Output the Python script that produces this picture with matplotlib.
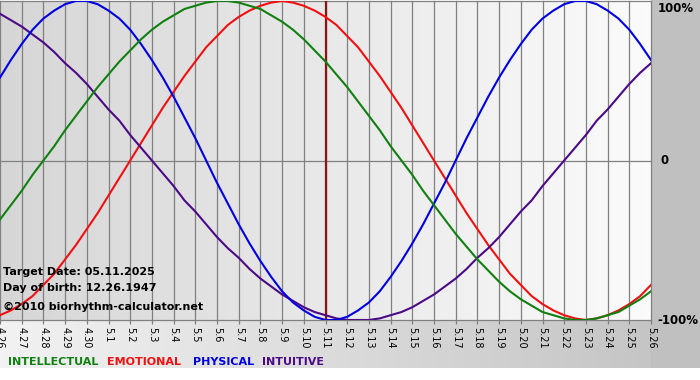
import numpy as np
import matplotlib
matplotlib.use("Agg")
import matplotlib.pyplot as plt

# tick labels, one per day (4.26 .. 5.26)
day_labels = ["4.26", "4.27", "4.28", "4.29", "4.30", "5.1", "5.2", "5.3", "5.4", "5.5",
              "5.6", "5.7", "5.8", "5.9", "5.10", "5.11", "5.12", "5.13", "5.14", "5.15",
              "5.16", "5.17", "5.18", "5.19", "5.20", "5.21", "5.22", "5.23", "5.24", "5.25",
              "5.26"]
# values read every half day (percent)
physical = [52, 63, 73, 82, 89, 94, 98, 100, 100, 98, 94, 89, 82, 73, 63, 52, 40, 27, 14, 0,
            -14, -27, -40, -52, -63, -73, -82, -89, -94, -98, -100, -100, -98, -94, -89, -82,
            -73, -63, -52, -40, -27, -14, 0, 14, 27, 40, 52, 63, 73, 82, 89, 94, 98, 100, 100,
            98, 94, 89, 82, 73, 63]
emotional = [-97, -94, -90, -85, -78, -71, -62, -53, -43, -33, -22, -11, 0, 11, 22, 33, 43,
             53, 62, 71, 78, 85, 90, 94, 97, 99, 100, 99, 97, 94, 90, 85, 78, 71, 62, 53, 43,
             33, 22, 11, 0, -11, -22, -33, -43, -53, -62, -71, -78, -85, -90, -94, -97, -99,
             -100, -99, -97, -94, -90, -85, -78]
intellectual = [-37, -28, -19, -9, 0, 9, 19, 28, 37, 46, 54, 62, 69, 76, 82, 87, 91, 95, 97,
                99, 100, 100, 99, 97, 95, 91, 87, 82, 76, 69, 62, 54, 46, 37, 28, 19, 9, 0, -9,
                -19, -28, -37, -46, -54, -62, -69, -76, -82, -87, -91, -95, -97, -99, -100,
                -100, -99, -97, -95, -91, -87, -82]
intuitive = [92, 88, 84, 79, 74, 68, 61, 55, 48, 40, 32, 25, 16, 8, 0, -8, -16, -25, -32,
             -40, -48, -55, -61, -68, -74, -79, -84, -88, -92, -95, -97, -99, -100, -100, -100,
             -99, -97, -95, -92, -88, -84, -79, -74, -68, -61, -55, -48, -40, -32, -25, -16,
             -8, 0, 8, 16, 25, 32, 40, 48, 55, 61]
target_index = 15
info_lines = ["Target Date: 05.11.2025", "Day of birth: 12.26.1947",
              "\u00a92010 biorhythm-calculator.net"]
legend_names = ["INTELLECTUAL", "EMOTIONAL", "PHYSICAL", "INTUITIVE"]

c_green = "#108010"
c_red = "#f01010"
c_blue = "#0000e0"
c_purple = "#4b0a86"
grid_c = "#808080"

W, H = 700, 380
fig = plt.figure(figsize=(W / 100, H / 100), dpi=100)
fig.patch.set_facecolor("white")

# background panels in pixel coordinates
bg = fig.add_axes([0, 0, 1, 1], zorder=0)
bg.set_xlim(0, W)
bg.set_ylim(H, 0)
bg.axis("off")
ramp = np.linspace(0.95, 0.76, 256)[None, :]
bg.imshow(np.dstack([ramp] * 3), extent=(0, W, 368, 318), aspect="auto")
bg.add_patch(plt.Rectangle((651, 0), W - 651, 368, color="#c0c0c0", lw=0))

ax_l, ax_r, ax_t, ax_b = 0, 651, 1, 320
ax = fig.add_axes([ax_l / W, 1 - ax_b / H, (ax_r - ax_l) / W, (ax_b - ax_t) / H], zorder=1)
n_days = len(day_labels)
ax.set_xlim(0, n_days - 1)
ax.set_ylim(-100, 100)
ax.patch.set_alpha(0)
grad = np.linspace(0.84, 0.985, 256)[None, :]
ax.imshow(np.dstack([grad] * 3), extent=(0, n_days - 1, -100, 100), aspect="auto", zorder=0)
for s in ax.spines.values():
    s.set_visible(False)

days = np.arange(n_days)
for d in days:
    ax.axvline(d, color=grid_c, lw=0.9, zorder=1, clip_on=False)
for yv in (-100, 0, 100):
    ax.axhline(yv, color=grid_c, lw=0.9, zorder=1, clip_on=False)

ax.axvline(target_index, color="#8b1414", lw=1.6, zorder=2)

# half-day sample positions
xs = np.arange(len(physical)) / 2
ax.plot(xs, emotional, color=c_red, lw=1.5, zorder=3)
ax.plot(xs, intuitive, color=c_purple, lw=1.5, zorder=3)
ax.plot(xs, physical, color=c_blue, lw=1.5, zorder=3)
ax.plot(xs, intellectual, color=c_green, lw=1.5, zorder=3)

ax.set_yticks([])
ax.set_xticks(days)
ax.set_xticklabels(day_labels, rotation=270, fontsize=7, va="top", ha="center")
ax.tick_params(axis="x", length=3, pad=2, color=grid_c, width=0.9)

# right side percent labels
ytr = ax.get_yaxis_transform()
ax.text(1.01, 95, "100%", transform=ytr, fontsize=8.5, fontweight="bold", va="center", ha="left")
ax.text(1.014, 0, "0", transform=ytr, fontsize=8.5, fontweight="bold", va="center", ha="left")
ax.text(1.01, -100, "-100%", transform=ytr, fontsize=8.5, fontweight="bold", va="center", ha="left")

# info text and legend row, pixel positions
top = fig.add_axes([0, 0, 1, 1], zorder=4)
top.set_xlim(0, W)
top.set_ylim(H, 0)
top.axis("off")
for txt, yp in zip(info_lines, [272, 288, 307]):
    top.text(3, yp, txt, fontsize=8, fontweight="bold", color="black", va="center", ha="left")

for name, col, xp in zip(legend_names, [c_green, c_red, c_blue, c_purple], [8, 107, 193, 262]):
    top.text(xp, 362, name, fontsize=8, fontweight="bold", color=col, va="center", ha="left")

fig.savefig("out.png", dpi=100)
